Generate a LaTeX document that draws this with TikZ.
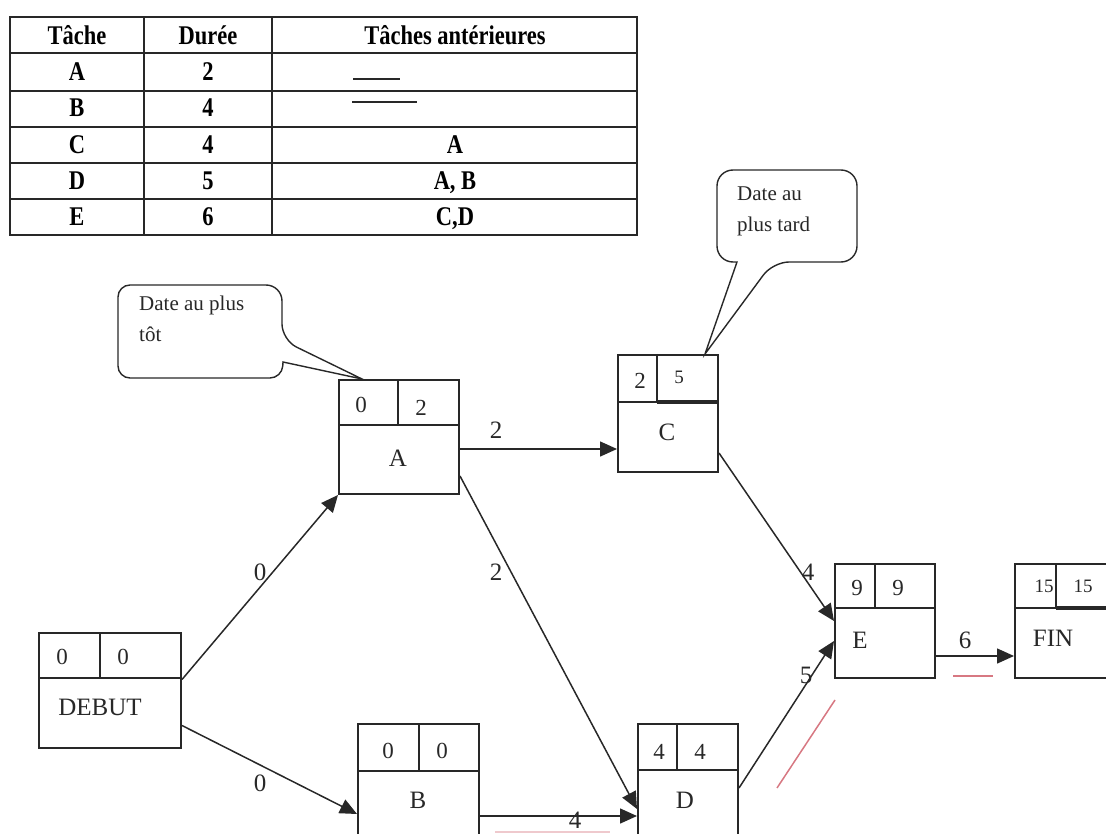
\documentclass[tikz,border=0pt]{standalone}
\usepackage{fontspec}
\setmainfont{Liberation Serif}
\usetikzlibrary{arrows.meta,calc}
\definecolor{ink}{RGB}{40,40,40}
\newcommand\tallt[1]{\scalebox{1}[1.2]{#1}}
\begin{document}
\begin{tikzpicture}[x=1pt,y=-1pt,
  box/.style={draw=ink,line width=2pt,anchor=north west,inner sep=0pt},
  divline/.style={draw=ink,line width=2pt},
  thickdiv/.style={draw=ink,line width=3.2pt},
  arr/.style={draw=ink,line width=1.5pt,-{Triangle[length=17pt,width=15pt]}},
  num/.style={text=ink,font=\fontsize{23}{23}\selectfont,inner sep=0pt},
  smallnum/.style={text=ink,font=\fontsize{19}{19}\selectfont,inner sep=0pt},
  lbl/.style={text=ink,font=\fontsize{25}{25}\selectfont,inner sep=0pt},
  elbl/.style={text=ink,font=\fontsize{25}{25}\selectfont,inner sep=0pt},
  tcell/.style={font=\fontsize{22.5}{22.5}\selectfont\bfseries,inner sep=0pt},
  tline/.style={draw=ink,line width=2.2pt},
  callout/.style={draw=ink,line width=1.4pt,fill=white},
  ctext/.style={text=ink,font=\fontsize{21}{31}\selectfont,align=left,inner sep=0pt,anchor=north west},
  redmark/.style={line width=1.5pt,draw={rgb,255:red,215;green,120;blue,130}}]
\useasboundingbox (0,0) rectangle (1106,834);
\clip (0,0) rectangle (1106,834);

% ---------- table ----------
\draw[tline] (10,17) rectangle (637,235);
\foreach \yy in {53,91,127,163,199} \draw[tline] (10,\yy) -- (637,\yy);
\draw[tline] (144,17) -- (144,235);
\draw[tline] (272,17) -- (272,235);
\node[tcell] (t11) at (77,35) {\tallt{Tâche}};
\node[tcell] (t12) at (208,35) {\tallt{Durée}};
\node[tcell] (t13) at (455,35) {\tallt{Tâches antérieures}};
\node[tcell] (t21) at (77,72) {\tallt{A}};
\node[tcell] (t22) at (208,72) {\tallt{2}};
\node[tcell] (t31) at (77,108) {\tallt{B}};
\node[tcell] (t32) at (208,108) {\tallt{4}};
\node[tcell] (t41) at (77,145) {\tallt{C}};
\node[tcell] (t42) at (208,145) {\tallt{4}};
\node[tcell] (t43) at (455,145) {\tallt{A}};
\node[tcell] (t51) at (77,181) {\tallt{D}};
\node[tcell] (t52) at (208,181) {\tallt{5}};
\node[tcell] (t53) at (455,183) {\tallt{A, B}};
\node[tcell] (t61) at (77,217) {\tallt{E}};
\node[tcell] (t62) at (208,217) {\tallt{6}};
\node[tcell] (t63) at (455,219) {\tallt{C,D}};
\draw[tline] (353,79) -- (400,79);
\draw[tline] (352,102) -- (417,102);

% ---------- task boxes ----------
\node[box,minimum width=142pt,minimum height=115pt] (debut) at (38,632) {};
\draw[divline] (debut.north west) ++(0,46) -- ++(142,0);
\draw[divline] (debut.north west) ++(62,0) -- ++(0,46);
\node[num] (debut1) at (62,657) {0};
\node[num] (debut2) at (123,657) {0};
\node[lbl] (debutn) at (100,707) {DEBUT};

\node[box,minimum width=120pt,minimum height=114pt] (A) at (338,379) {};
\draw[divline] (A.north west) ++(0,46) -- ++(120,0);
\draw[divline] (A.north west) ++(60,0) -- ++(0,46);
\node[num] (A1) at (361,405) {0};
\node[num] (A2) at (421,408) {2};
\node[lbl] (An) at (398,458) {A};

\node[box,minimum width=100pt,minimum height=117pt] (C) at (617,354) {};
\draw[divline] (C.north west) ++(0,48) -- ++(40,0);
\draw[thickdiv] (C.north west) ++(40,48) -- ++(60,0);
\draw[divline] (C.north west) ++(40,0) -- ++(0,48);
\node[num] (C1) at (640,381) {2};
\node[smallnum] (C2) at (679,377) {5};
\node[lbl] (Cn) at (667,432) {C};

\node[box,minimum width=121pt,minimum height=120pt] (B) at (357,723) {};
\draw[divline] (B.north west) ++(0,48) -- ++(121,0);
\draw[divline] (B.north west) ++(62,0) -- ++(0,48);
\node[num] (B1) at (388,751) {0};
\node[num] (B2) at (442,751) {0};
\node[lbl] (Bn) at (418,800) {B};

\node[box,minimum width=100pt,minimum height=120pt] (D) at (637,723) {};
\draw[divline] (D.north west) ++(0,47) -- ++(100,0);
\draw[divline] (D.north west) ++(40,0) -- ++(0,47);
\node[num] (D1) at (659,752) {4};
\node[num] (D2) at (700,752) {4};
\node[lbl] (Dn) at (685,800) {D};

\node[box,minimum width=100pt,minimum height=114pt] (E) at (834,563) {};
\draw[divline] (E.north west) ++(0,45) -- ++(100,0);
\draw[divline] (E.north west) ++(41,0) -- ++(0,45);
\node[num] (E1) at (857,588) {9};
\node[num] (E2) at (898,588) {9};
\node[lbl] (En) at (860,640) {E};

\node[box,minimum width=100pt,minimum height=114pt] (FIN) at (1014,563) {};
\draw[divline] (FIN.north west) ++(0,45) -- ++(42,0);
\draw[thickdiv] (FIN.north west) ++(42,45) -- ++(58,0);
\draw[divline] (FIN.north west) ++(42,0) -- ++(0,45);
\node[smallnum] (F1) at (1044,586) {15};
\node[smallnum] (F2) at (1083,586) {15};
\node[lbl] (Fn) at (1053,638) {FIN};

% ---------- connectors ----------
\draw[arr] ([yshift=11pt]debut.east) -- (A.south west);
\draw[arr] ([yshift=-35pt]debut.east) -- ([yshift=-30pt]B.west);
\draw[arr] ([yshift=-12pt]A.east) -- ([yshift=-35.5pt]C.west);
\draw[arr] ([yshift=-39pt]A.east) -- ([yshift=-25pt]D.west);
\draw[arr] ([yshift=-32pt]B.east) -- ([yshift=-32pt]D.west);
\draw[arr] ([yshift=-39.5pt]C.east) -- (E.west);
\draw[arr] ([yshift=-4pt]D.east) -- ([yshift=-20pt]E.west);
\draw[arr] ([yshift=-35pt]E.east) -- ([yshift=-35pt]FIN.west);

\node[elbl] (l1) at (260,572) {0};
\node[elbl] (l2) at (260,783) {0};
\node[elbl] (l3) at (496,430) {2};
\node[elbl] (l4) at (496,572) {2};
\node[elbl] (l5) at (575,820) {4};
\node[elbl] (l6) at (808,572) {4};
\node[elbl] (l7) at (806,675) {5};
\node[elbl] (l8) at (965,640) {6};

% ---------- callouts ----------
\coordinate (tipA) at ([xshift=24pt]A.north west);
\draw[callout,rounded corners=16pt] (200,285) -- (282,285) -- (282,340)
   [sharp corners] -- (tipA) -- (283,362) [rounded corners=12pt] -- (282,378) -- (118,378) -- (118,285) -- cycle;
\node[ctext] (ctot) at (139,296) {Date au plus\\tôt};

\coordinate (tipC) at ([xshift=-14pt]C.north east);
\draw[callout,rounded corners=16pt] (787,170) -- (857,170) -- (857,262) -- (773,262)
   [sharp corners] -- (tipC) -- (737,262) [rounded corners=16pt] -- (717,262) -- (717,170) -- cycle;
\node[ctext] (ctard) at (737,187) {Date au\\plus tard};

% ---------- red marks ----------
\draw[redmark] (953,676) -- (993,676);
\draw[redmark] (777,788) -- (835,700);
\draw[redmark,opacity=0.4] (495,832) -- (610,832);
\end{tikzpicture}
\end{document}
